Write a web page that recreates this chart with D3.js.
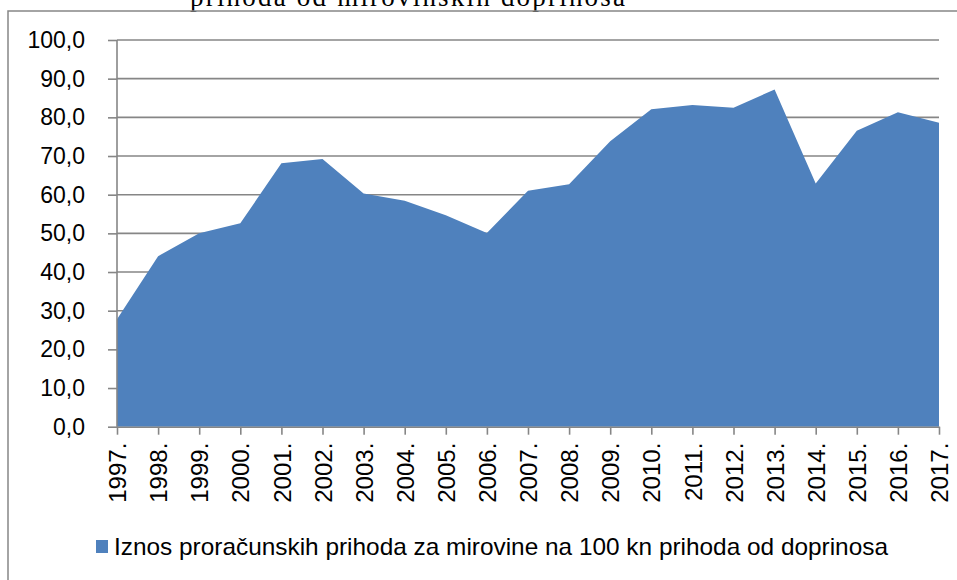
<!DOCTYPE html>
<html>
<head>
<meta charset="utf-8">
<script src="https://cdn.jsdelivr.net/npm/d3@7"></script>
<style>
  body { margin: 0; background: #fff; }
  text { font-family: "Liberation Sans", Arial, sans-serif; fill: #000; }
</style>
</head>
<body>
<div id="chart"></div>
<script>
const width = 957;
const height = 580;

// podaci
const years = ["1997.", "1998.", "1999.", "2000.", "2001.", "2002.", "2003.", "2004.", "2005.", "2006.", "2007.",
  "2008.", "2009.", "2010.", "2011.", "2012.", "2013.", "2014.", "2015.", "2016.", "2017."];
const values = [27.8, 44.1, 50.0, 52.6, 68.1, 69.2, 60.3, 58.4, 54.7, 50.1, 61.0,
  62.7, 73.8, 82.1, 83.2, 82.5, 87.2, 62.9, 76.5, 81.3, 78.6];
const yTicks = [0, 10, 20, 30, 40, 50, 60, 70, 80, 90, 100];
const seriesName = "Iznos proračunskih prihoda za mirovine na 100 kn prihoda od doprinosa";
const titleText = "prihoda od mirovinskih doprinosa";

const plot = { left: 117, right: 939, top: 40, bottom: 426.7 };
const areaColor = "#4F81BD";
const gridColor = "#868686";

const svg = d3.select("#chart").append("svg")
  .attr("width", width)
  .attr("height", height);

// naslov (odrezan na vrhu, kao u izvorniku)
svg.append("text")
  .attr("x", 190)
  .attr("y", 6)
  .attr("textLength", 435)
  .style("font-family", "'Liberation Serif', 'Times New Roman', serif")
  .style("font-size", "27px")
  .text(titleText);

// okvir
svg.append("rect")
  .attr("x", 8).attr("y", 11)
  .attr("width", 960).attr("height", 600)
  .attr("fill", "none")
  .attr("stroke", gridColor)
  .attr("stroke-width", 1.5);

const x = d3.scalePoint().domain(years).range([plot.left, plot.right]);
const y = d3.scaleLinear().domain([0, 100]).range([plot.bottom, plot.top]);

// mreža
svg.append("g").selectAll("line")
  .data(yTicks.filter(d => d > 0))
  .enter().append("line")
  .attr("x1", plot.left).attr("x2", plot.right)
  .attr("y1", d => y(d)).attr("y2", d => y(d))
  .attr("stroke", gridColor).attr("stroke-width", 1.6);

// površina
const area = d3.area()
  .x((d, i) => x(years[i]))
  .y0(y(0))
  .y1(d => y(d));

svg.append("path")
  .datum(values)
  .attr("d", area)
  .attr("fill", areaColor);

// y os
const yAxis = d3.axisLeft(y)
  .tickValues(yTicks)
  .tickSize(9)
  .tickPadding(23)
  .tickFormat(d => d3.format(".1f")(d).replace(".", ","));

const yAxisG = svg.append("g")
  .attr("transform", "translate(" + plot.left + ",0)")
  .call(yAxis);
yAxisG.select(".domain").attr("stroke", gridColor).attr("stroke-width", 1.6)
  .attr("d", "M0," + plot.top + "V" + plot.bottom);
yAxisG.selectAll(".tick line").attr("stroke", gridColor).attr("stroke-width", 1.6);
yAxisG.selectAll("text").style("font-size", "23px").attr("fill", "#000");

// x os
const xAxis = d3.axisBottom(x).tickSize(8).tickSizeOuter(0);
const xAxisG = svg.append("g")
  .attr("transform", "translate(0," + plot.bottom + ")")
  .call(xAxis);
xAxisG.select(".domain").attr("stroke", gridColor).attr("stroke-width", 1.6);
xAxisG.selectAll(".tick line").attr("stroke", gridColor).attr("stroke-width", 1.6);
xAxisG.selectAll("text")
  .style("font-size", "24px")
  .attr("fill", "#000")
  .attr("text-anchor", "end")
  .attr("transform", "rotate(-90)")
  .attr("x", -16)
  .attr("y", 0)
  .attr("dy", "0.36em");

// legenda
const legend = svg.append("g").attr("transform", "translate(96,540)");
legend.append("rect")
  .attr("width", 12).attr("height", 13)
  .attr("fill", areaColor);
legend.append("text")
  .attr("x", 18)
  .attr("y", 6.5)
  .attr("dy", "0.36em")
  .attr("textLength", 774)
  .attr("lengthAdjust", "spacingAndGlyphs")
  .style("font-size", "24px")
  .text(seriesName);
</script>
</body>
</html>
